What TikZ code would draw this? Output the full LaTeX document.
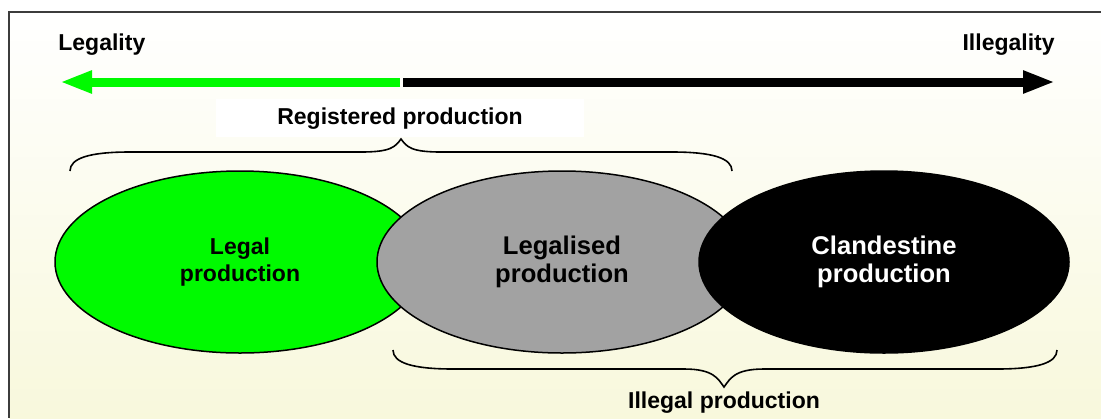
\documentclass[tikz,border=0pt]{standalone}
\usepackage{fontspec}
\setmainfont{Liberation Sans}
\usetikzlibrary{arrows.meta,positioning,shapes.geometric}

\definecolor{legalgreen}{RGB}{0,250,0}
\definecolor{legalgray}{RGB}{162,162,162}
\definecolor{paperyellow}{RGB}{248,248,220}
\definecolor{framegray}{RGB}{60,60,60}

\begin{document}
\begin{tikzpicture}[
  x=0.5pt,y=-0.5pt,
  font=\bfseries\fontsize{11.5}{13.5}\selectfont,
  prod/.style={ellipse,draw=black,line width=0.75pt,minimum width=185pt,minimum height=91pt,inner sep=0pt,outer sep=0pt,align=center},
  big/.style={font=\bfseries\fontsize{12.8}{14}\selectfont},
  lbl/.style={inner sep=0pt,anchor=base},
  axis/.style={line width=4.5pt,-{Triangle[length=16pt,width=10.5pt]}},
  brc/.style={line width=0.8pt}
]
\useasboundingbox (0,0) rectangle (1101,418);

% paper
\shade[top color=white,bottom color=paperyellow] (9,12) rectangle (1101,418);
\draw[framegray,line width=1pt] (9,418) -- (9,12) -- (1101,12);

% legality axis
\node[lbl,anchor=base west] (legality) at (58,50) {Legality};
\node[lbl,anchor=base east] (illegality) at (1055,50) {Illegality};
\coordinate (axisMid) at (401.5,82);
\coordinate (axisL) at (60,82);
\coordinate (axisR) at (1055,82);
\draw[axis,legalgreen] ([xshift=-0.75pt]axisMid) -- (axisL);
\draw[axis,black] ([xshift=0.75pt]axisMid) -- (axisR);

% registered
\node[lbl,fill=white,minimum width=184pt,minimum height=19pt] (registered) at (400,124) {Registered production};
\coordinate (regL) at (70,171);
\coordinate (regTip) at (401,139);
\coordinate (regR) at (732,171);
\draw[brc] (regL) .. controls +(0,-13) and +(-40,0) .. (130,152) -- (361,152)
  .. controls +(30,0) and +(-6,8) .. (regTip)
  .. controls +(6,8) and +(-30,0) .. (441,152) -- (672,152)
  .. controls +(40,0) and +(0,-13) .. (regR);

% the three productions
\node[prod,fill=legalgreen] (legal) at (240,262) {Legal\\production};
\node[prod,big,fill=legalgray,right=-24pt of legal] (legalised) {Legalised\\production};
\node[prod,big,fill=black,text=white,right=-24pt of legalised] (clandestine) {Clandestine\\production};

% illegal
\coordinate (illL) at (393,350);
\coordinate (illTip) at (724,387);
\coordinate (illR) at (1057,350);
\draw[brc] (illL) .. controls +(0,13) and +(-40,0) .. (453,369) -- (684,369)
  .. controls +(30,0) and +(-6,-8) .. (illTip)
  .. controls +(6,-8) and +(-30,0) .. (764,369) -- (997,369)
  .. controls +(40,0) and +(0,13) .. (illR);
\node[lbl] (illegal) at (724,408) {Illegal production};
\end{tikzpicture}
\end{document}
